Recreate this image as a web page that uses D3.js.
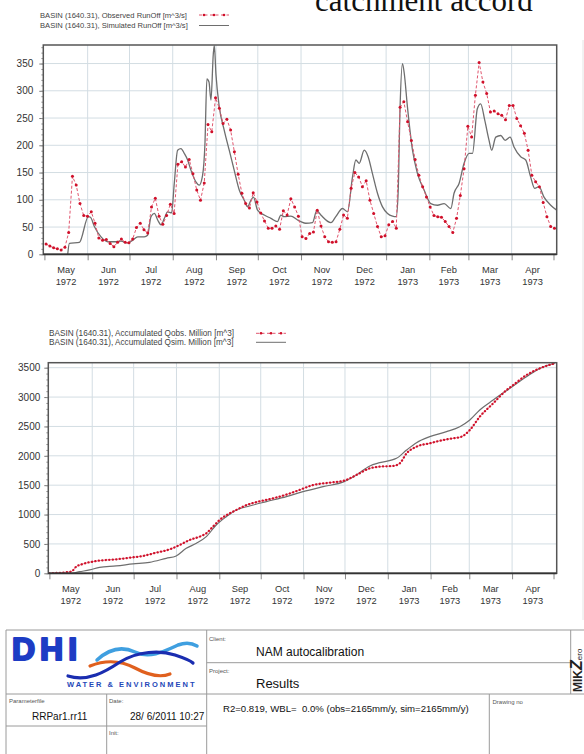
<!DOCTYPE html>
<html>
<head>
<meta charset="utf-8">
<script src="https://cdn.jsdelivr.net/npm/d3@7"></script>
<style>
  body { margin: 0; background: #fff; }
  svg { display: block; }
  text { font-family: Arial, "Liberation Sans", sans-serif; }
</style>
</head>
<body>
<svg id="chart" width="584" height="754"></svg>
<script>
// ---- data (days counted from 1 May 1972) ----
const monthLabels = ["May", "Jun", "Jul", "Aug", "Sep", "Oct", "Nov", "Dec", "Jan", "Feb", "Mar", "Apr"];
const yearLabels = ["1972", "1972", "1972", "1972", "1972", "1972", "1972", "1972", "1973", "1973", "1973", "1973"];
const runoffTicks = [0, 50, 100, 150, 200, 250, 300, 350];
const accTicks = [0, 500, 1000, 1500, 2000, 2500, 3000, 3500];

// observed runoff, one reading every 2.7 days from day 1.2
const obsFirstDay = 1.2;
const obsStepDays = 2.7;
const obsFlow = [19, 15, 12, 10, 8, 13, 40, 143, 127, 93, 71, 70, 78, 57, 30, 26, 27, 20, 14, 22,
  28, 22, 21, 28, 49, 57, 45, 39, 87, 103, 70, 55, 71, 92, 75, 165, 170, 160, 174, 148,
  118, 99, 131, 238, 225, 287, 268, 240, 248, 228, 188, 147, 112, 93, 85, 113, 96, 76, 61, 48,
  48, 52, 46, 80, 72, 102, 87, 70,
  32, 29, 38, 41, 81, 52, 32, 23, 22, 23, 46, 72, 66, 121, 150, 142, 124, 135, 99, 75,
  51, 32, 34, 54, 60, 48, 270, 280, 243, 209, 174, 145, 124, 105, 87, 71, 69, 68, 60, 51,
  40, 66, 108, 157, 235, 215, 292, 352, 316, 295, 261, 263, 258, 255, 247, 273, 273, 249, 236, 222,
  191, 145, 133, 124, 95, 69, 51, 48];

// simulated runoff
const simDay = [16.7, 17.9, 25.1, 31.5, 33.0, 35.8, 40.6, 45.4, 50.1, 54.9, 59.7, 63.3, 66.9, 71.6, 74.0,
  76.4, 78.8, 81.2, 83.6, 86.0, 88.3, 91.2, 93.1, 95.5, 97.9, 100.3, 102.7, 105.1, 108.6, 111.0,
  113.4, 115.1, 116.5, 118.0, 119.4, 121.1, 121.8, 123.0, 125.4, 128.9, 132.5, 136.1, 139.7, 143.3, 145.7,
  148.0, 149.9, 152.8, 157.6, 162.4, 167.1, 169.5, 171.9, 176.7, 181.5, 183.9, 187.4, 192.2, 195.3, 198.2,
  205.4, 208.9, 213.7, 217.3, 220.9, 223.3, 225.7, 229.3, 232.1, 235.2, 238.8, 242.4, 246.0, 249.6, 252.2,
  253.6, 255.0, 256.7, 257.9, 260.3, 263.9, 267.5, 272.2, 277.0, 281.8, 286.6, 291.4, 293.7, 297.3, 300.9,
  304.5, 306.9, 310.4, 312.8, 315.7, 318.8, 320.7, 323.6, 327.2, 330.3, 333.9, 336.7, 341.5, 345.1, 348.6,
  351.5, 354.6, 358.2, 363.0, 367.3];
const simFlow = [0, 20, 22, 69, 68, 51, 32, 23, 23, 24, 21, 26, 32, 32, 35,
  69, 75, 63, 54, 66, 78, 76, 130, 191, 194, 185, 173, 154, 133, 127,
  145, 203, 322, 316, 283, 368, 383, 330, 270, 228, 191, 154, 118, 99, 87,
  99, 105, 81, 72, 66, 60, 72, 69, 70, 63, 60, 57, 58, 80, 72,
  58, 69, 84, 78, 142, 173, 167, 191, 179, 148, 112, 87, 75, 70, 69,
  112, 270, 350, 334, 270, 191, 148, 118, 93, 90, 93, 84, 112, 130, 167,
  185, 185, 267, 276, 246, 209, 191, 215, 218, 209, 215, 197, 179, 173, 142,
  121, 124, 105, 90, 81];

// accumulated volumes, million m^3
const accObsDay = [0, 15.8, 19.4, 24.2, 31.5, 36.3, 48.4, 60.5, 67.7, 77.4, 87.1, 94.3, 101.5, 108.8, 113.6,
  118.4, 123.2, 130.5, 135.3, 142.5, 152.2, 161.9, 171.6, 181.2, 190.9, 203.0, 213.4, 222.3, 232.0, 239.2,
  248.9, 253.7, 258.6, 265.8, 275.4, 285.1, 292.3, 298.4, 304.4, 311.6, 321.3, 331.0, 335.8, 345.4, 355.1, 366.0];
const accObsVal = [0, 28, 113, 159, 199, 216, 238, 272, 295, 352, 408, 482, 567, 624, 681,
  794, 908, 1021, 1078, 1160, 1225, 1276, 1340, 1420, 1503, 1543, 1577, 1674, 1787, 1815,
  1827, 1872, 2042, 2156, 2213, 2269, 2298, 2326, 2439, 2666, 2893, 3120, 3205, 3375, 3489, 3574];
const accSimDay = [0, 15.8, 21.8, 29.1, 36.3, 48.4, 60.5, 72.5, 84.6, 91.8, 99.1, 106.4, 113.6, 120.8, 128.1,
  135.3, 144.9, 157.1, 171.6, 183.6, 198.1, 213.4, 222.3, 232.0, 239.2, 251.3, 258.6, 265.8, 275.4, 287.5,
  297.1, 304.4, 311.6, 321.3, 333.4, 345.4, 355.1, 366.0];
const accSimVal = [0, 0, 28, 57, 102, 125, 159, 187, 255, 295, 425, 511, 624, 823, 964,
  1078, 1146, 1220, 1305, 1390, 1475, 1560, 1674, 1827, 1883, 1957, 2099, 2224, 2326, 2411,
  2496, 2610, 2780, 2950, 3149, 3347, 3489, 3574];

// ---- helpers ----
const startDate = new Date(1972, 4, 1);
const dayToDate = d => new Date(startDate.getTime() + d * 864e5);
const monthStarts = d3.timeMonth.range(new Date(1972, 4, 1), new Date(1973, 4, 2));

const svg = d3.select("svg#chart");
const red = "#d0102a";
const gray = "#6e6e6e";
const gridColor = "#d3dde3";

// big heading cut off at the top of the page
svg.append("text")
  .attr("x", 315).attr("y", 11)
  .style("font-family", "'Liberation Serif', 'DejaVu Serif', serif")
  .style("font-size", "31px")
  .attr("fill", "#111")
  .text("catchment accord");

// faint page edge on the right
svg.append("line")
  .attr("x1", 583).attr("x2", 583).attr("y1", 40).attr("y2", 620)
  .attr("stroke", "#e4e4e4");

function drawPanel(cfg) {
  const x = d3.scaleTime()
    .domain([dayToDate(-0.8), dayToDate(367.3)])
    .range([cfg.left, cfg.right]);
  const y = d3.scaleLinear().domain([0, cfg.yMax]).range([cfg.bottom, cfg.top]);

  const g = svg.append("g");
  const clipId = "clip" + cfg.id;
  svg.append("clipPath").attr("id", clipId)
    .append("rect")
    .attr("x", cfg.left).attr("y", cfg.top - 2)
    .attr("width", cfg.right - cfg.left).attr("height", cfg.bottom - cfg.top + 2);

  // grid
  g.selectAll("line.vgrid").data(monthStarts.slice(1, 12))
    .join("line")
    .attr("class", "vgrid")
    .attr("x1", d => x(d)).attr("x2", d => x(d))
    .attr("y1", cfg.top).attr("y2", cfg.bottom)
    .attr("stroke", gridColor);
  g.selectAll("line.hgrid").data(cfg.ticks.slice(1))
    .join("line")
    .attr("class", "hgrid")
    .attr("x1", cfg.left).attr("x2", cfg.right)
    .attr("y1", d => y(d)).attr("y2", d => y(d))
    .attr("stroke", gridColor);

  // y axis, major and minor ticks
  const yAxis = g.append("g")
    .attr("transform", `translate(${cfg.left},0)`)
    .call(d3.axisLeft(y).tickValues(cfg.ticks).tickSize(4).tickPadding(cfg.pad).tickFormat(d3.format("d")));
  yAxis.select(".domain").remove();
  yAxis.selectAll("line").attr("stroke", "#777");
  yAxis.selectAll("text")
    .style("font-family", "Arial, 'Liberation Sans', sans-serif")
    .style("font-size", "10px").attr("fill", "#333");
  const yMinor = g.append("g")
    .attr("transform", `translate(${cfg.left},0)`)
    .call(d3.axisLeft(y).tickValues(d3.range(0, cfg.yMax, cfg.minor)).tickSize(2).tickFormat(""));
  yMinor.select(".domain").remove();
  yMinor.selectAll("line").attr("stroke", "#999");

  // x axis
  const xAxis = g.append("g")
    .attr("transform", `translate(0,${cfg.bottom})`)
    .call(d3.axisBottom(x).tickValues(monthStarts).tickSize(6).tickFormat(""));
  xAxis.select(".domain").remove();
  xAxis.selectAll("line").attr("stroke", "#888");

  const labels = g.selectAll("g.mlabel").data(monthLabels)
    .join("g")
    .attr("class", "mlabel")
    .attr("transform", (d, i) => {
      const mid = new Date((monthStarts[i].getTime() + monthStarts[i + 1].getTime()) / 2);
      return `translate(${x(mid)},${cfg.bottom})`;
    });
  labels.append("text")
    .attr("text-anchor", "middle").attr("y", 19)
    .style("font-size", "9.3px").attr("fill", "#333")
    .text(d => d);
  labels.append("text")
    .attr("text-anchor", "middle").attr("y", 31)
    .style("font-size", "9.3px").attr("fill", "#333")
    .text((d, i) => yearLabels[i]);

  // series
  const plot = g.append("g").attr("clip-path", `url(#${clipId})`);
  cfg.drawSeries(plot, x, y);

  // frame
  g.append("rect")
    .attr("x", cfg.left).attr("y", cfg.top)
    .attr("width", cfg.right - cfg.left).attr("height", cfg.bottom - cfg.top)
    .attr("fill", "none").attr("stroke", "#555").attr("stroke-width", 1.5);
  g.append("line")
    .attr("x1", cfg.left).attr("x2", cfg.right)
    .attr("y1", cfg.bottom).attr("y2", cfg.bottom)
    .attr("stroke", "#333").attr("stroke-width", 1.8);

  // legend
  cfg.legend.forEach((item, i) => {
    const ly = cfg.legendY + i * cfg.legendGap;
    g.append("text")
      .attr("x", cfg.legendX).attr("y", ly + 2.5)
      .style("font-size", cfg.legendFont + "px").attr("fill", "#444")
      .text(item.label);
    const sx = cfg.sampleX;
    if (item.kind === "obs") {
      g.append("line")
        .attr("x1", sx).attr("x2", sx + 30).attr("y1", ly).attr("y2", ly)
        .attr("stroke", "#e0566e").attr("stroke-dasharray", "3,2.5");
      g.selectAll(null).data([sx + 5, sx + 15, sx + 25]).join("circle")
        .attr("cx", d => d).attr("cy", ly).attr("r", 1.3).attr("fill", red);
    } else {
      g.append("line")
        .attr("x1", sx).attr("x2", sx + 30).attr("y1", ly).attr("y2", ly)
        .attr("stroke", gray).attr("stroke-width", 1);
    }
  });
}

// ---- top panel: runoff ----
const obsPoints = obsFlow.map((v, i) => ({ date: dayToDate(obsFirstDay + i * obsStepDays), v }));
const simPoints = simDay.map((d, i) => ({ date: dayToDate(d), v: simFlow[i] }));

drawPanel({
  id: "top", left: 43.3, right: 556.7, top: 45, bottom: 254.3,
  yMax: 384, ticks: runoffTicks, minor: 10, pad: 6,
  legendX: 40, legendY: 15, legendGap: 10.5, legendFont: 7.6, sampleX: 199,
  legend: [
    { label: "BASIN (1640.31), Observed RunOff [m^3/s]", kind: "obs" },
    { label: "BASIN (1640.31), Simulated RunOff [m^3/s]", kind: "sim" }
  ],
  drawSeries: (plot, x, y) => {
    plot.append("path").datum(simPoints)
      .attr("fill", "none").attr("stroke", gray).attr("stroke-width", 1.3)
      .attr("d", d3.line().x(d => x(d.date)).y(d => y(d.v)).curve(d3.curveMonotoneX));
    plot.append("path").datum(obsPoints)
      .attr("fill", "none").attr("stroke", "#e0566e").attr("stroke-width", 1)
      .attr("stroke-dasharray", "3,2")
      .attr("d", d3.line().x(d => x(d.date)).y(d => y(d.v)));
    plot.selectAll("circle.obs").data(obsPoints)
      .join("circle")
      .attr("class", "obs")
      .attr("cx", d => x(d.date)).attr("cy", d => y(d.v))
      .attr("r", 1.5).attr("fill", red);
  }
});

// ---- bottom panel: accumulated volumes ----
const accObsPoints = accObsDay.map((d, i) => ({ date: dayToDate(d), v: accObsVal[i] }));
const accSimPoints = accSimDay.map((d, i) => ({ date: dayToDate(d), v: accSimVal[i] }));

drawPanel({
  id: "bottom", left: 48.3, right: 556.7, top: 362.7, bottom: 573.3,
  yMax: 3585, ticks: accTicks, minor: 100, pad: 4,
  legendX: 49, legendY: 333.3, legendGap: 9, legendFont: 8.2, sampleX: 256,
  legend: [
    { label: "BASIN (1640.31), Accumulated Qobs. Million [m^3]", kind: "obs" },
    { label: "BASIN (1640.31), Accumulated Qsim. Million [m^3]", kind: "sim" }
  ],
  drawSeries: (plot, x, y) => {
    plot.append("path").datum(accSimPoints)
      .attr("fill", "none").attr("stroke", gray).attr("stroke-width", 1.2)
      .attr("d", d3.line().x(d => x(d.date)).y(d => y(d.v)).curve(d3.curveMonotoneX));
    const obsLine = d3.line().x(d => x(d.date)).y(d => y(d.v)).curve(d3.curveMonotoneX);
    plot.append("path").datum(accObsPoints)
      .attr("fill", "none").attr("stroke", "#e07a8a").attr("stroke-width", 0.8)
      .attr("d", obsLine);
    plot.append("path").datum(accObsPoints)
      .attr("fill", "none").attr("stroke", red).attr("stroke-width", 2.3)
      .attr("stroke-linecap", "round").attr("stroke-dasharray", "0.1,3.4")
      .attr("d", obsLine);
  }
});

// ---- title block ----
const tb = svg.append("g");
const lineColor = "#9a9a9a";
const tbLines = [
  [6, 630, 584, 630], [6, 630, 6, 754], [206.7, 630, 206.7, 754],
  [206.7, 662.7, 570.7, 662.7], [570.7, 630, 570.7, 694], [6, 694, 584, 694],
  [106.7, 694, 106.7, 754], [6, 726, 206.7, 726], [489.3, 694, 489.3, 754]
];
tb.selectAll("line").data(tbLines).join("line")
  .attr("x1", d => d[0]).attr("y1", d => d[1]).attr("x2", d => d[2]).attr("y2", d => d[3])
  .attr("stroke", lineColor).attr("stroke-width", 1);

// DHI logo
tb.append("text")
  .attr("x", 12).attr("y", 660)
  .style("font-size", "32px").style("font-weight", "bold").style("letter-spacing", "5px")
  .attr("fill", "#1d3cc4").attr("stroke", "#1d3cc4").attr("stroke-width", 2.2)
  .attr("stroke-linejoin", "round")
  .text("DHI");
tb.append("path")
  .attr("d", "M97,660 C110,648 122,646 135,652 C150,659 165,651 178,645 C186,642 192,643 197,646")
  .attr("fill", "none").attr("stroke", "#3f9fe0").attr("stroke-width", 3.5).attr("stroke-linecap", "round");
tb.append("path")
  .attr("d", "M90,666 C105,660 120,660 135,668 C148,675 160,678 170,674")
  .attr("fill", "none").attr("stroke", "#e0601e").attr("stroke-width", 3.2).attr("stroke-linecap", "round");
tb.append("path")
  .attr("d", "M68,676 C88,682 105,672 120,662 C138,651 160,650 175,655 C184,658 190,660 193,663")
  .attr("fill", "none").attr("stroke", "#1a2db0").attr("stroke-width", 3.2).attr("stroke-linecap", "round");
tb.append("text")
  .attr("x", 67).attr("y", 687)
  .style("font-size", "7.5px").style("font-weight", "bold").style("letter-spacing", "2px")
  .attr("fill", "#2448b8").text("WATER & ENVIRONMENT");

// MIKE Zero vertical mark
const mz = tb.append("text")
  .attr("transform", "translate(582,692) rotate(-90)")
  .attr("fill", "#222");
mz.append("tspan").style("font-size", "12px").style("font-weight", "bold").text("MIK");
mz.append("tspan").style("font-size", "16px").style("font-weight", "bold").style("font-style", "italic").text("Z");
mz.append("tspan").style("font-size", "8px").text("ero");

// cell captions and contents
const smallTexts = [
  { x: 209, y: 641, t: "Client:" },
  { x: 209, y: 673, t: "Project:" },
  { x: 9, y: 703, t: "Parameterfile" },
  { x: 109, y: 703, t: "Date:" },
  { x: 109, y: 735, t: "Init:" },
  { x: 492.5, y: 704, t: "Drawing no" }
];
tb.selectAll("text.cap").data(smallTexts).join("text")
  .attr("class", "cap")
  .attr("x", d => d.x).attr("y", d => d.y)
  .style("font-size", "6px").attr("fill", "#555")
  .text(d => d.t);

tb.append("text").attr("x", 256).attr("y", 656)
  .style("font-size", "12px").attr("fill", "#111").text("NAM autocalibration");
tb.append("text").attr("x", 256).attr("y", 688)
  .style("font-size", "13px").attr("fill", "#111").text("Results");
tb.append("text").attr("x", 32).attr("y", 720)
  .style("font-size", "10px").attr("fill", "#111").text("RRPar1.rr11");
tb.append("text").attr("x", 130).attr("y", 720)
  .style("font-size", "10px").attr("fill", "#111").text("28/ 6/2011 10:27");
tb.append("text").attr("x", 223).attr("y", 712)
  .style("font-size", "9.6px").attr("fill", "#111")
  .attr("xml:space", "preserve")
  .text("R2=0.819, WBL=  0.0% (obs=2165mm/y, sim=2165mm/y)");
</script>
</body>
</html>
